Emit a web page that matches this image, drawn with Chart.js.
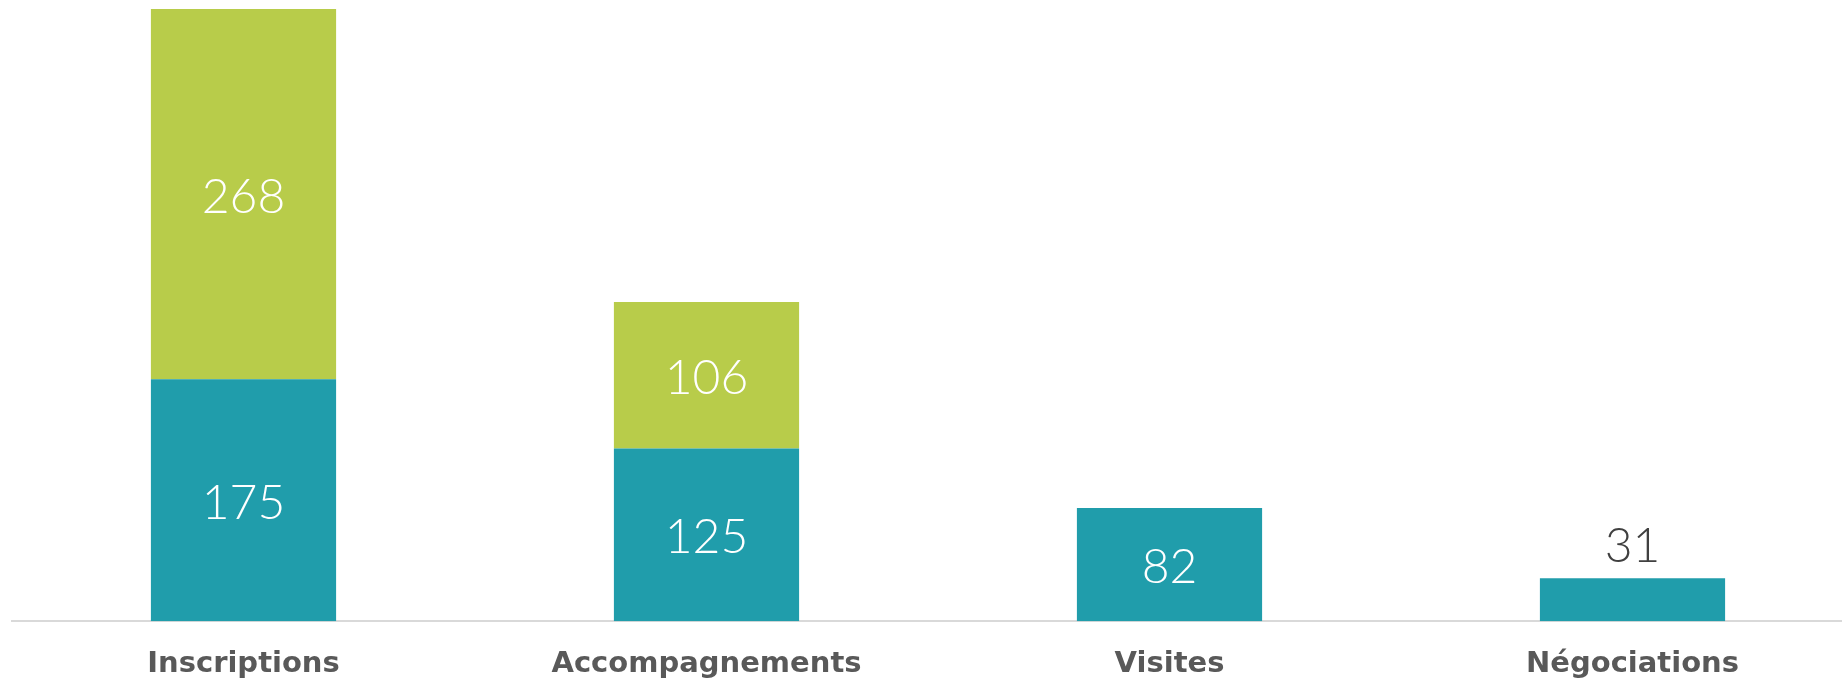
<!DOCTYPE html>
<html>
<head>
<meta charset="utf-8">
<script src="https://cdn.jsdelivr.net/npm/chart.js@4.4.0/dist/chart.umd.min.js"></script>
<style>
    html, body { margin: 0; padding: 0; background: #ffffff; overflow: hidden; }
    #wrap { width: 1870px; height: 700px; position: relative; }
</style>
</head>
<body>
<div id="wrap"><canvas id="actionsChart"></canvas></div>
<script>
const categories = ["Inscriptions", "Accompagnements", "Visites", "Négociations"];
const lowerValues = [175, 125, 82, 31];
const upperValues = [268, 106, null, null];
const axisMax = 443;

// labels drawn in the middle of each segment, or above it when the bar is too short
const segmentLabels = {
    id: "segmentLabels",
    afterDatasetsDraw(chart) {
        const ctx = chart.ctx;
        ctx.save();
        ctx.font = "300 48px Lato, 'Open Sans', sans-serif";
        ctx.textAlign = "center";
        ctx.textBaseline = "middle";
        chart.data.datasets.forEach((ds, i) => {
            const meta = chart.getDatasetMeta(i);
            meta.data.forEach((bar, j) => {
                const v = ds.data[j];
                if (v === null || v === undefined) return;
                const h = bar.base - bar.y;
                if (h > 60) {
                    ctx.fillStyle = "#ffffff";
                    ctx.fillText(String(v), bar.x, bar.y + h / 2 + 3);
                } else {
                    ctx.fillStyle = "#404040";
                    ctx.fillText(String(v), bar.x, bar.y - 32);
                }
            });
        });
        ctx.restore();
    }
};

document.addEventListener("DOMContentLoaded", () => {
    const ctx = document.getElementById("actionsChart").getContext("2d");

    new Chart(ctx, {
        type: "bar",
        data: {
            labels: categories,
            datasets: [
                {
                    label: "Série 1",
                    data: lowerValues,
                    backgroundColor: "#209DAB",
                    borderWidth: 0,
                    categoryPercentage: 1,
                    barPercentage: 0.4
                },
                {
                    label: "Série 2",
                    data: upperValues,
                    backgroundColor: "#B8CC4A",
                    borderWidth: 0,
                    categoryPercentage: 1,
                    barPercentage: 0.4
                }
            ]
        },
        options: {
            responsive: true,
            maintainAspectRatio: false,
            animation: false,
            layout: {
                padding: { left: 12, right: 6, top: 9, bottom: 0 }
            },
            plugins: {
                legend: { display: false },
                tooltip: { enabled: false }
            },
            scales: {
                x: {
                    stacked: true,
                    grid: { display: false },
                    border: { display: true, color: "#d9d9d9", width: 2 },
                    ticks: {
                        color: "#595959",
                        padding: 18,
                        font: { family: "'DejaVu Sans', sans-serif", size: 29, weight: "bold" }
                    }
                },
                y: {
                    stacked: true,
                    display: false,
                    min: 0,
                    max: axisMax
                }
            }
        },
        plugins: [segmentLabels]
    });
});
</script>
</body>
</html>
